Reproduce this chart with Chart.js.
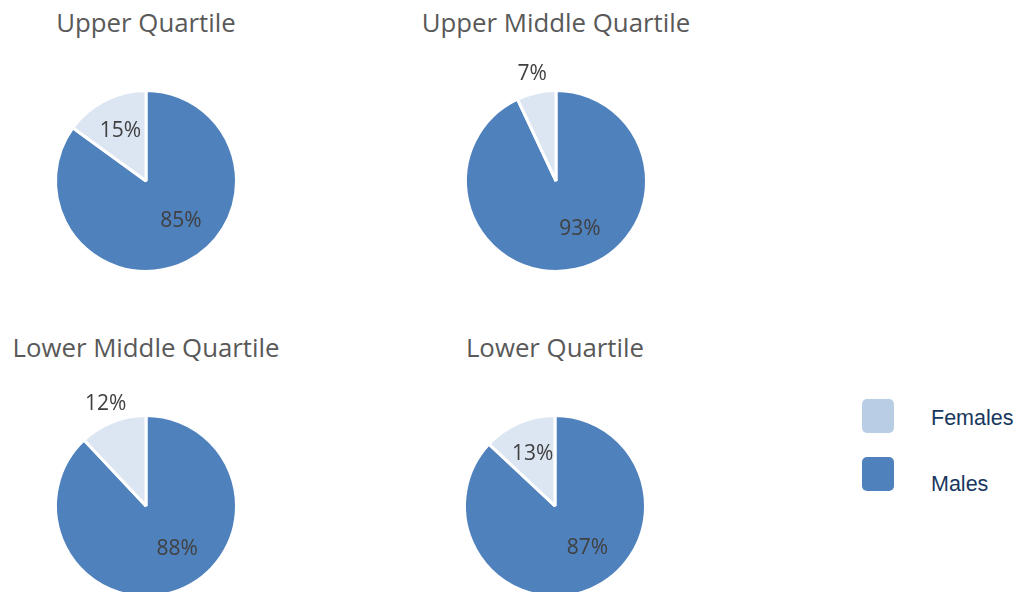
<!DOCTYPE html>
<html>
<head>
<meta charset="utf-8">
<script src="https://cdn.jsdelivr.net/npm/chart.js@4/dist/chart.umd.min.js"></script>
<style>
  html, body { margin: 0; padding: 0; background: #fff; overflow: hidden; }
  body { width: 1019px; height: 592px; position: relative; }
  .title { position: absolute; font-family: "Open Sans", sans-serif; font-size: 25.8px; color: #595959; transform: translateX(-50%); white-space: nowrap; }
  .pie { position: absolute; width: 280px; height: 240px; }
  .swatch { position: absolute; left: 862px; width: 32px; height: 34px; border-radius: 5px; }
  .leg { position: absolute; left: 931px; font-family: "Liberation Sans", Arial, sans-serif; font-size: 21.5px; color: #17375e; }
</style>
</head>
<body>
<script>
const quartiles = ["Upper Quartile", "Upper Middle Quartile", "Lower Middle Quartile", "Lower Quartile"]
const femalesPct = [15, 7, 12, 13]
const malesPct = [85, 93, 88, 87]
const seriesLabels = ["Females", "Males"]
// Excel put some small labels outside the pie
const femaleOutside = [false, true, true, false]

const centers = [[146, 181], [556, 181], [146, 506], [555, 506]]
const maleColor = "#4f81bd"
const femaleColor = "#dce6f2"

const labelPlugin = {
  id: "pctLabels",
  afterDatasetsDraw(chart) {
    const c = chart.ctx
    const idx = chart.options.plugins.pctLabels.idx
    const meta = chart.getDatasetMeta(0)
    c.save()
    c.font = '21px "Open Sans", sans-serif'
    c.fillStyle = "#404040"
    c.textAlign = "center"
    c.textBaseline = "middle"
    meta.data.forEach((arc, i) => {
      const p = arc.getProps(["x", "y", "startAngle", "endAngle", "outerRadius"], true)
      let mid = (p.startAngle + p.endAngle) / 2
      let dist
      if (i === 0) {
        mid -= 14 * Math.PI / 180
        dist = p.outerRadius * 0.59
      } else {
        dist = femaleOutside[idx] ? p.outerRadius * 1.21 : p.outerRadius * 0.62
      }
      const v = chart.data.datasets[0].data[i]
      c.fillText(v + "%", p.x + Math.cos(mid) * dist, p.y + Math.sin(mid) * dist)
    })
    c.restore()
  }
}

quartiles.forEach((q, i) => {
  const [cx, cy] = centers[i]
  const t = document.createElement("div")
  t.className = "title"
  t.textContent = q
  t.style.left = cx + "px"
  t.style.top = (cy < 300 ? 4 : 329) + "px"
  document.body.appendChild(t)

  const wrap = document.createElement("div")
  wrap.className = "pie"
  wrap.style.left = (cx - 140) + "px"
  wrap.style.top = (cy - 120) + "px"
  const cv = document.createElement("canvas")
  wrap.appendChild(cv)
  document.body.appendChild(wrap)

  new Chart(cv, {
    type: "pie",
    data: {
      labels: [seriesLabels[1], seriesLabels[0]],
      datasets: [{
        data: [malesPct[i], femalesPct[i]],
        backgroundColor: [maleColor, femaleColor],
        borderColor: "#ffffff",
        borderWidth: 3
      }]
    },
    options: {
      responsive: true,
      maintainAspectRatio: false,
      animation: false,
      layout: { padding: { left: 48, right: 48, top: 28, bottom: 28 } },
      plugins: {
        legend: { display: false },
        tooltip: { enabled: false },
        pctLabels: { idx: i }
      }
    },
    plugins: [labelPlugin]
  })
})

const legendColors = ["#b9cde5", maleColor]
const legendTops = [399, 457]
seriesLabels.forEach((s, i) => {
  const sw = document.createElement("div")
  sw.className = "swatch"
  sw.style.top = legendTops[i] + "px"
  sw.style.background = legendColors[i]
  document.body.appendChild(sw)
  const tx = document.createElement("div")
  tx.className = "leg"
  tx.textContent = s
  tx.style.top = (legendTops[i] + (i === 0 ? 7 : 15)) + "px"
  document.body.appendChild(tx)
})
</script>
</body>
</html>
